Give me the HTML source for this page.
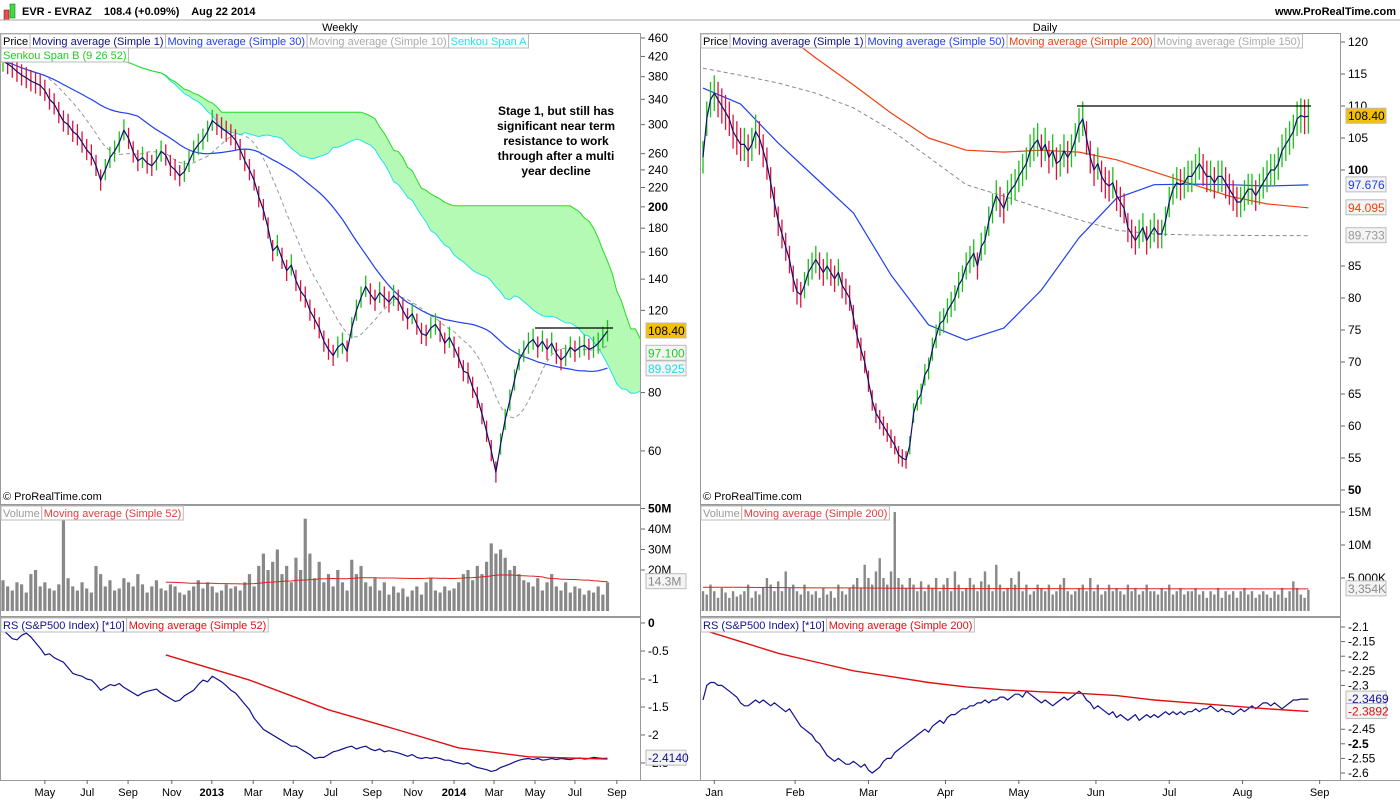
<!DOCTYPE html>
<html><head><meta charset="utf-8">
<style>
body{margin:0;background:#fff;font-family:"Liberation Sans",sans-serif;}
svg text{font-family:"Liberation Sans",sans-serif;}
</style></head>
<body>
<svg id="c" width="1400" height="800" xmlns="http://www.w3.org/2000/svg">
<rect x="0" y="0" width="1400" height="800" fill="#fff"/>
<g>
<rect x="4" y="10" width="5" height="10" fill="#e05050" stroke="#800" stroke-width="0.5"/>
<rect x="10" y="4" width="5" height="14" fill="#40dd40" stroke="#060" stroke-width="0.5"/>
<text x="22" y="15" font-size="11" font-weight="bold">EVR - EVRAZ &#160;&#160; 108.4 (+0.09%) &#160;&#160; Aug 22 2014</text>
<text x="1396" y="15" font-size="11" font-weight="bold" text-anchor="end">www.ProRealTime.com</text>
</g>
<line x1="0" y1="20" x2="1400" y2="20" stroke="#aaa"/>
<text x="340" y="31" font-size="11" text-anchor="middle">Weekly</text>
<text x="1045" y="31" font-size="11" text-anchor="middle">Daily</text>
<g id="g"></g>
</svg>
<script>
// ---- Weekly data ----
const wClose=[410,405,398,390,383,378,372,368,364,355,
340,332,318,305,300,290,285,275,265,258,
245,228,240,255,263,275,292,280,262,251,
255,248,245,252,263,258,245,240,233,238,
250,263,272,279,290,306,300,295,290,285,
278,265,251,240,228,210,197,180,161,165,
155,146,150,139,132,128,120,115,110,103,
99,96,100,102,98,110,120,128,135,130,
126,131,128,125,129,126,120,115,118,112,
107,106,110,112,108,102,105,100,95,89,
88,82,78,72,66,60,54,62,70,77,
85,94,98,102,104,100,103,99,102,97,
94,96,100,98,100,101,99,100,102,105,108.4];
const wVol=[15,12,10,14,13,9,18,20,12,14,
11,10,13,45,16,12,10,14,11,9,
22,18,12,15,10,11,16,14,12,18,
13,9,12,15,11,10,13,12,9,8,
10,12,15,11,14,12,9,10,13,11,
12,10,14,18,12,22,28,20,24,30,
18,22,14,26,20,45,28,16,24,14,
18,12,20,14,10,25,18,22,14,12,
16,10,14,8,12,9,11,7,10,12,
8,14,16,10,9,12,10,11,14,18,
20,15,22,18,24,33,28,30,26,20,
22,18,15,14,12,16,10,14,18,12,
10,14,9,12,11,8,10,9,12,8,14];
const wRS=[-0.13,-0.2,-0.28,-0.3,-0.22,-0.18,-0.25,-0.35,-0.45,-0.57,
-0.55,-0.62,-0.66,-0.7,-0.8,-0.9,-0.93,-0.95,-1.0,-1.02,
-1.1,-1.2,-1.15,-1.1,-1.12,-1.08,-1.15,-1.2,-1.25,-1.3,
-1.25,-1.22,-1.2,-1.18,-1.25,-1.3,-1.35,-1.4,-1.38,-1.3,
-1.25,-1.2,-1.1,-1.02,-1.05,-0.95,-1.0,-1.05,-1.12,-1.2,
-1.25,-1.35,-1.45,-1.55,-1.7,-1.8,-1.9,-1.95,-2.0,-2.05,
-2.1,-2.15,-2.2,-2.2,-2.25,-2.3,-2.35,-2.42,-2.4,-2.4,
-2.35,-2.3,-2.28,-2.25,-2.22,-2.2,-2.25,-2.22,-2.2,-2.25,
-2.28,-2.25,-2.3,-2.28,-2.3,-2.32,-2.35,-2.38,-2.35,-2.4,
-2.42,-2.4,-2.42,-2.4,-2.42,-2.45,-2.45,-2.48,-2.5,-2.52,
-2.5,-2.55,-2.58,-2.6,-2.62,-2.65,-2.63,-2.58,-2.55,-2.52,
-2.48,-2.45,-2.43,-2.42,-2.44,-2.42,-2.45,-2.44,-2.42,-2.44,
-2.42,-2.43,-2.44,-2.42,-2.41,-2.43,-2.42,-2.4,-2.41,-2.42,-2.414];
const wRSMAWeek=[35,53,70,85,98,113,130];
const wRSMA=[-0.57,-1.02,-1.55,-1.91,-2.23,-2.39,-2.43];
const wPriceTicks=[460,420,380,340,300,260,240,220,200,180,160,140,120,80,60];
const wVolTicks=[50,40,30,20];
const wRSTicks=[0,-0.5,-1,-1.5,-2,-2.5];
const wMonths=["May","Jul","Sep","Nov","2013","Mar","May","Jul","Sep","Nov","2014","Mar","May","Jul","Sep"];
const wMonthWeek=[9,18.1,26.9,36.3,44.9,53.8,62.4,70.5,79.4,88.2,97,105.6,114.4,123,132];

// ---- Daily data ----
const dClose=[102,108,111,112,111,110,109,108,106,105,
104,104,103,104,106,105,103,101,98,95,
92,90,88,86,83,81,80.5,82,84,85,
86,85,84,85,84,83,84,82,81,80,
77,74,72,70,67,64,62,61,60,59,
58,57,55.5,55,54.7,57,62,64,65,68,
69,72,74,76,76.5,78,79,80,82,83,
85,86,87,85,88,89,92,94,96,95,
94,96,97,97.7,99,100,101,103,104,104.7,
103,104,102,103,101,101.5,103,102,103,104.7,
107,108,105,102,100,101,99,98,97.5,98,
96,95,94,91,90,89,90,91,89,90,
91,90,90,92,95,97,98,97.7,98,99,
99,100,101,100,99,99,98,99,99,98,
97,96,95,95,96,97,97,96,97,98,
99,100,100,101,103,104,105,106,108,108.5,108.3,108.4];
const dMA50=[112.8,110.3,104.2,98.75,93.3,83.6,75.8,73.4,75.3,81.25,89.4,95.6,97.7,97.8,97.7,97.5,97.676];
const dMA200=[132,126,122,117.5,113.3,108.9,105,103.1,102.8,103.1,102.8,101.6,99.7,97.8,95.9,94.7,94.095];
const dMA150=[115.9,114.8,113.6,112,109.7,106.25,102,97.7,95.9,94,92.2,90.6,90,89.85,89.8,89.75,89.733];
const dVol=[3,2.5,4,3,2,3.5,2.8,2,3,2.2,
2.5,3,4,2,3,2.5,3.5,5,4,3,
4.5,3,6,3.5,4,3,2.5,4,3,2.5,
3,2,3.5,2.5,3,2,4,3,2.5,3.5,
4,5,3.5,7,5,4,6,8,5,4,
6,15,5,4,3.5,5,4,3,4.5,3,
4,3.5,5,3,4,5,3,6,4,3,
3.5,5,4,3,4.5,6,4,3,7,4,
3,3.5,5,4,6,3,4,2.5,3,4,
3.5,3,4,2.5,3,4,5,3,2.5,3,
3.5,4,3,5,3,4,2.5,3,4,3,
3.5,3,2.5,4,3,3.5,2.5,3,4,3,
3,2.5,3.5,3,4,2.5,3,3.5,2.5,3,
3,3.5,2.5,3,2,3,2.5,3.5,2,3,
2.5,3,2,3,3.5,2.5,3,2,2.5,3,
2.5,2,3,2.5,3.5,2,3,4.5,3.5,2.5,2,3.2];
const dVolMA=[3.6,3.6,3.55,3.5,3.5,3.45,3.45,3.4,3.4,3.4,3.38,3.36,3.36,3.35,3.35,3.35,3.354];
const dRS=[-2.35,-2.3,-2.29,-2.29,-2.3,-2.3,-2.31,-2.32,-2.33,-2.34,
-2.36,-2.37,-2.37,-2.36,-2.35,-2.36,-2.35,-2.36,-2.37,-2.36,
-2.37,-2.38,-2.39,-2.38,-2.4,-2.42,-2.44,-2.45,-2.46,-2.47,
-2.49,-2.5,-2.52,-2.54,-2.55,-2.56,-2.55,-2.56,-2.57,-2.57,
-2.56,-2.57,-2.58,-2.57,-2.59,-2.6,-2.59,-2.58,-2.56,-2.55,
-2.55,-2.53,-2.52,-2.51,-2.5,-2.49,-2.48,-2.47,-2.46,-2.45,
-2.46,-2.44,-2.43,-2.42,-2.43,-2.41,-2.4,-2.4,-2.39,-2.38,
-2.38,-2.37,-2.37,-2.36,-2.36,-2.35,-2.36,-2.35,-2.35,-2.34,
-2.34,-2.35,-2.34,-2.33,-2.33,-2.34,-2.32,-2.33,-2.34,-2.35,
-2.36,-2.35,-2.36,-2.37,-2.36,-2.35,-2.34,-2.35,-2.34,-2.33,
-2.32,-2.33,-2.35,-2.36,-2.38,-2.37,-2.38,-2.39,-2.4,-2.39,
-2.41,-2.4,-2.41,-2.42,-2.41,-2.4,-2.42,-2.41,-2.4,-2.41,
-2.4,-2.41,-2.4,-2.39,-2.4,-2.39,-2.4,-2.39,-2.4,-2.39,
-2.39,-2.38,-2.39,-2.38,-2.38,-2.37,-2.38,-2.39,-2.38,-2.39,
-2.39,-2.4,-2.39,-2.38,-2.39,-2.38,-2.37,-2.38,-2.37,-2.36,
-2.36,-2.37,-2.36,-2.37,-2.38,-2.37,-2.36,-2.35,-2.35,-2.347,-2.347,-2.3469];
const dRSMA=[-2.11,-2.15,-2.19,-2.22,-2.25,-2.27,-2.29,-2.305,-2.315,-2.322,-2.327,-2.335,-2.35,-2.36,-2.37,-2.38,-2.3892];
const dPriceTicks=[120,115,110,105,100,85,80,75,70,65,60,55,50];
const dVolTicks=[15,10,5];
const dRSTicks=[-2.1,-2.15,-2.2,-2.25,-2.3,-2.45,-2.5,-2.55,-2.6];
const dMonths=["Jan","Feb","Mar","Apr","May","Jun","Jul","Aug","Sep"];
const dMonthDay=[3,24.5,44,64.5,84,104.5,124,143.5,164];

// ---- scales ----
const NS="http://www.w3.org/2000/svg";
const G=document.getElementById('g');
function el(t,a,p){const e=document.createElementNS(NS,t);for(const k in a)e.setAttribute(k,a[k]);(p||G).appendChild(e);return e;}
const xw=i=>3+i*4.65, xd=i=>703+i*3.76;
const ywP=v=>38+(Math.log(460)-Math.log(v))*202.7;
const ydP=v=>170-(v-100)*6.4;
const ywV=v=>611-v*2.05;
const ydV=v=>611-v*6.6;
const ywR=v=>623-v*56;
const ydR=v=>627+(-2.1-v)*292;
const sampleIdx=k=>k<16?k*10:161;

const defs=el('defs',{});
[['cw1',0,33,640,471],['cd1',700,33,640,471],['cw2',0,505,640,111],['cd2',700,505,640,111],['cw3',0,617,640,163],['cd3',700,617,640,163]].forEach(c=>{
 const cp=el('clipPath',{id:c[0]},defs);el('rect',{x:c[1],y:c[2],width:c[3],height:c[4]},cp);});

[[0,33,640,471],[700,33,640,471],[0,505,640,111],[700,505,640,111],[0,617,640,163],[700,617,640,163]].forEach(r=>{
 const f=el('rect',{x:r[0]+0.5,y:r[1]+0.5,width:r[2],height:r[3],fill:'none',stroke:'#999'});
 
 });
el('line',{x1:0,y1:780.5,x2:1400,y2:780.5,stroke:'#999'});

function poly(pts,color,w,clip,dash,name){
 const p=el('polyline',{points:pts.map(q=>q[0].toFixed(1)+','+q[1].toFixed(1)).join(' '),fill:'none',stroke:color,'stroke-width':w||1,'clip-path':'url(#'+clip+')','stroke-linejoin':'round'});
 if(dash)p.setAttribute('stroke-dasharray',dash);
 
 
 return p;}
function ma(arr,n,i){let s=0,c=0;for(let j=Math.max(0,i-n+1);j<=i;j++){s+=arr[j];c++;}return s/c;}
function mid(arr,n,i){let a=-1e9,b=1e9;for(let j=Math.max(0,i-n+1);j<=i;j++){a=Math.max(a,arr[j]);b=Math.min(b,arr[j]);}return (a+b)/2;}

// ---- Weekly Ichimoku cloud ----
const NW=wClose.length;
const spanA=[],spanB=[];
for(let i=0;i<NW;i++){spanA.push([xw(i+26),(mid(wClose,9,i)+mid(wClose,26,i))/2]);spanB.push([xw(i+26),mid(wClose,52,i)]);}
for(let i=0;i<NW-1;i++){
 const q=el('polygon',{points:[[spanA[i][0],ywP(spanA[i][1])],[spanA[i+1][0],ywP(spanA[i+1][1])],[spanB[i+1][0],ywP(spanB[i+1][1])],[spanB[i][0],ywP(spanB[i][1])]].map(p=>p.join(',')).join(' '),
  fill:spanA[i][1]>spanB[i][1]?'#aef3f8':'#b4f9b4',stroke:spanA[i][1]>spanB[i][1]?'#aef3f8':'#b4f9b4','stroke-width':0.6,'clip-path':'url(#cw1)'});
 
 }
poly(spanA.map(p=>[p[0],ywP(p[1])]),'#22e2f2',1,'cw1',null,'senkou-span-a');
poly(spanB.map(p=>[p[0],ywP(p[1])]),'#22dd22',1,'cw1',null,'senkou-span-b');

poly(wClose.map((v,i)=>[xw(i),ywP(ma(wClose,10,i))]),'#999',1,'cw1','4,3','weekly-ma10');
poly(wClose.map((v,i)=>[xw(i),ywP(ma(wClose,30,i))]),'#2040ee',1.2,'cw1',null,'weekly-ma30');
wClose.forEach((v,i)=>{const up=i==0||v>=wClose[i-1];
 const b=el('line',{x1:xw(i),x2:xw(i),y1:ywP(v*1.055),y2:ywP(v*0.95),stroke:up?'#18c018':'#e0103a','stroke-width':1.3,'clip-path':'url(#cw1)'});
 
 });
poly(wClose.map((v,i)=>[xw(i),ywP(v)]),'#101070',1.2,'cw1',null,'weekly-price-line');
el('line',{x1:535,x2:613,y1:ywP(110),y2:ywP(110),stroke:'#000','stroke-width':1.2});

wVol.forEach((v,i)=>{const b=el('rect',{x:xw(i)-1.6,y:ywV(v),width:3.2,height:611-ywV(v),fill:'#888','clip-path':'url(#cw2)'});
 
 });
poly(wVol.map((v,i)=>[xw(i),ywV(ma(wVol,52,i))]).slice(35),'#e02020',1,'cw2',null,'weekly-volume-ma52');
poly(wRS.map((v,i)=>[xw(i),ywR(v)]),'#101090',1.2,'cw3',null,'weekly-rs-line');
poly(wRSMA.map((v,k)=>[xw(wRSMAWeek[k]),ywR(v)]),'#e01010',1.4,'cw3',null,'weekly-rs-ma52');

// ---- Daily ----
poly(dMA150.map((v,k)=>[xd(sampleIdx(k)),ydP(v)]),'#888',1,'cd1','4,3','daily-ma150');
poly(dMA200.map((v,k)=>[xd(sampleIdx(k)),ydP(v)]),'#f04010',1.2,'cd1',null,'daily-ma200');
poly(dMA50.map((v,k)=>[xd(sampleIdx(k)),ydP(v)]),'#2040ee',1.2,'cd1',null,'daily-ma50');
dClose.forEach((v,i)=>{const up=i==0||v>=dClose[i-1];
 const b=el('line',{x1:xd(i),x2:xd(i),y1:ydP(v*1.025),y2:ydP(v*0.975),stroke:up?'#18c018':'#e0103a','stroke-width':1.3,'clip-path':'url(#cd1)'});
 
 });
poly(dClose.map((v,i)=>[xd(i),ydP(v)]),'#101070',1.2,'cd1',null,'daily-price-line');
el('line',{x1:1077,x2:1311,y1:ydP(110),y2:ydP(110),stroke:'#000','stroke-width':1.2});

dVol.forEach((v,i)=>{const b=el('rect',{x:xd(i)-1.2,y:ydV(v),width:2.4,height:611-ydV(v),fill:'#888','clip-path':'url(#cd2)'});
 
 });
poly(dVolMA.map((v,k)=>[xd(sampleIdx(k)),ydV(v)]),'#e02020',1,'cd2',null,'daily-volume-ma200');
poly(dRS.map((v,i)=>[xd(i),ydR(v)]),'#101090',1.2,'cd3',null,'daily-rs-line');
poly(dRSMA.map((v,k)=>[xd(sampleIdx(k)),ydR(v)]),'#e01010',1.4,'cd3',null,'daily-rs-ma200');

// ---- axes ----
function tick(x,y,txt,bold,name){
 el('line',{x1:x,x2:x+4,y1:y,y2:y,stroke:'#666'});
 const t=el('text',{x:x+7,y:y+4,'font-size':12,'font-weight':bold?'bold':'normal'});t.textContent=txt;
 
 }
wPriceTicks.forEach(v=>tick(641,ywP(v),String(v),v==200,'weekly-price-tick'));
wVolTicks.forEach(v=>tick(641,ywV(v),v+'M',v==50,'weekly-volume-tick'));
wRSTicks.forEach(v=>tick(641,ywR(v),String(v),v==0,'weekly-rs-tick'));
dPriceTicks.forEach(v=>tick(1341,ydP(v),String(v),v==100||v==50,'daily-price-tick'));
dVolTicks.forEach(v=>tick(1341,ydV(v),v==5?'5,000K':v+'M',false,'daily-volume-tick'));
dRSTicks.forEach(v=>tick(1341,ydR(v),String(v),v==-2.5,'daily-rs-tick'));
wMonths.forEach((m,k)=>{const x=xw(wMonthWeek[k]);el('line',{x1:x,x2:x,y1:780,y2:784,stroke:'#666'});
 const t=el('text',{x:x,y:796,'font-size':11,'text-anchor':'middle','font-weight':m.length==4?'bold':'normal'});t.textContent=m;
 
 });
dMonths.forEach((m,k)=>{const x=xd(dMonthDay[k]);el('line',{x1:x,x2:x,y1:780,y2:784,stroke:'#666'});
 const t=el('text',{x:x,y:796,'font-size':11,'text-anchor':'middle'});t.textContent=m;
 
 });

function badge(x,y,txt,fg,bg,name){
 const r=el('rect',{x:x,y:y-8,width:40,height:15,fill:bg,stroke:'#bbb'});
 
 
 const t=el('text',{x:x+2,y:y+4,'font-size':12,fill:fg});t.textContent=txt;}
badge(646,ywP(108.4),'108.40','#000','#f5c000','weekly-last-price');
badge(646,ywP(97.1),'97.100','#22cc22','#f4f4f4','weekly-span-b-value');
badge(646,ywP(89.925),'89.925','#22d8e8','#f4f4f4','weekly-span-a-value');
badge(646,ywV(14.3),'14.3M','#888','#f4f4f4','weekly-volume-value');
badge(646,ywR(-2.414),'-2.4140','#101090','#f4f4f4','weekly-rs-value');
badge(1346,ydP(108.4),'108.40','#000','#f5c000','daily-last-price');
badge(1346,ydP(97.676),'97.676','#2040ee','#f4f4f4','daily-ma50-value');
badge(1346,ydP(94.095),'94.095','#f04010','#f4f4f4','daily-ma200-value');
badge(1346,ydP(89.733),'89.733','#999','#f4f4f4','daily-ma150-value');
badge(1346,ydV(3.354),'3,354K','#888','#f4f4f4','daily-volume-value');
badge(1346,ydR(-2.3469),'-2.3469','#101090','#f4f4f4','daily-rs-value');
badge(1346,ydR(-2.3892),'-2.3892','#e01010','#f4f4f4','daily-rs-ma-value');

function legend(x,y,items,name){
 items.forEach(it=>{const t=el('text',{x:x+2,y:y+11,'font-size':11,fill:it[1]});t.textContent=it[0];
  const w=t.getComputedTextLength()+4;
  const r=el('rect',{x:x,y:y,width:w,height:14,fill:'#fff',stroke:'#bbb'});G.insertBefore(r,t);
  
  
  x+=w;});}
legend(1,34,[['Price','#000'],['Moving average (Simple 1)','#101080'],['Moving average (Simple 30)','#2040ee'],['Moving average (Simple 10)','#aaa'],['Senkou Span A','#22e2f2']],'weekly-legend');
legend(1,48,[['Senkou Span B (9 26 52)','#22cc22']],'weekly-legend');
legend(701,34,[['Price','#000'],['Moving average (Simple 1)','#101080'],['Moving average (Simple 50)','#2040ee'],['Moving average (Simple 200)','#f04010'],['Moving average (Simple 150)','#aaa']],'daily-legend');
legend(1,506,[['Volume','#999'],['Moving average (Simple 52)','#e04040']],'weekly-volume-legend');
legend(701,506,[['Volume','#999'],['Moving average (Simple 200)','#e04040']],'daily-volume-legend');
legend(1,618,[['RS (S&P500 Index) [*10]','#101090'],['Moving average (Simple 52)','#e01010']],'weekly-rs-legend');
legend(701,618,[['RS (S&P500 Index) [*10]','#101090'],['Moving average (Simple 200)','#e01010']],'daily-rs-legend');

const ann=["Stage 1, but still has","significant near term","resistance to work","through after a multi","year decline"];
ann.forEach((s,k)=>{const t=el('text',{x:556,y:115+k*15,'font-size':12,'font-weight':'bold','text-anchor':'middle'});t.textContent=s;
 
 });
[[3,'weekly-copyright'],[703,'daily-copyright']].forEach(c=>{const t=el('text',{x:c[0],y:500,'font-size':11});t.textContent='© ProRealTime.com';
 
 });
</script>
</body></html>
